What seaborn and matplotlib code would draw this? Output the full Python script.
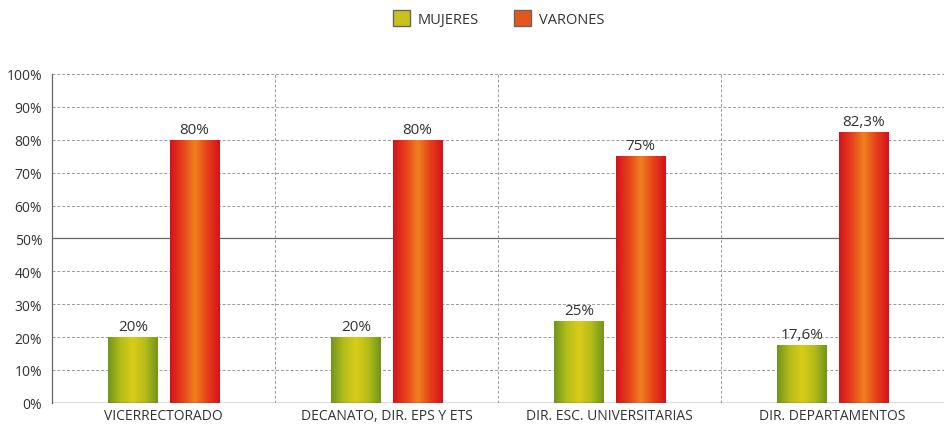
import numpy as np
import pandas as pd
import seaborn as sns
import matplotlib.pyplot as plt
from matplotlib.colors import LinearSegmentedColormap
from matplotlib.patches import Patch

# data
categorias = ['VICERRECTORADO', 'DECANATO, DIR. EPS Y ETS',
              'DIR. ESC. UNIVERSITARIAS', 'DIR. DEPARTAMENTOS']
mujeres = [20, 20, 25, 17.6]
varones = [80, 80, 75, 82.3]
series = ['MUJERES', 'VARONES']

df = pd.DataFrame({
    'cargo': categorias * 2,
    'sexo': ['MUJERES'] * 4 + ['VARONES'] * 4,
    'valor': mujeres + varones,
})

sns.set_style('white')
plt.rcParams['font.family'] = ['Open Sans', 'DejaVu Sans']

fig = plt.figure(figsize=(9.44, 4.31), dpi=100)
ax = fig.add_axes([0.055, 0.063, 0.945, 0.763])

flat = {'MUJERES': '#c9c21c', 'VARONES': '#e4561c'}
ax = sns.barplot(data=df, x='cargo', y='valor', hue='sexo', order=categorias,
                 hue_order=series, palette=flat, width=0.55, gap=0.2,
                 legend=False, ax=ax)

# horizontal gradients (dark edges, light centre) like the original bars
cmaps = {
    'MUJERES': LinearSegmentedColormap.from_list('m', ['#6f951c', '#b3bc1a', '#d9cc18', '#b3bc1a', '#6f951c']),
    'VARONES': LinearSegmentedColormap.from_list('v', ['#d4121a', '#e6401a', '#f0801e', '#e6401a', '#d4121a']),
}
grad = np.linspace(0, 1, 256).reshape(1, -1)
for container, name in zip(ax.containers, series):
    for bar in container:
        x0, y0 = bar.get_x(), bar.get_y()
        w, h = bar.get_width(), bar.get_height()
        bar.set_facecolor('none')
        bar.set_edgecolor('none')
        im = ax.imshow(grad, cmap=cmaps[name], aspect='auto',
                       extent=(x0, x0 + w, y0, y0 + h), zorder=3)
        im.set_clip_path(bar)
    labels = [f'{v:g}%'.replace('.', ',') for v in container.datavalues]
    ax.bar_label(container, labels=labels, padding=2, fontsize=11, color='#333333')

ax.set_xlim(-0.5, 3.5)
ax.set_ylim(0, 100)
ax.set_yticks(range(0, 101, 10))
ax.set_yticklabels([f'{t}%' for t in range(0, 101, 10)], fontsize=10, color='#333333')
ax.set_xticklabels(categorias, fontsize=10, color='#333333')
ax.set_xlabel('')
ax.set_ylabel('')
ax.tick_params(axis='y', length=4, color='#777777', pad=3)
ax.tick_params(axis='x', length=0, pad=4)

# grid: dashed, 50% solid
for t in range(10, 101, 10):
    if t == 50:
        ax.axhline(t, color='#666666', lw=0.9, zorder=1)
    else:
        ax.axhline(t, color='#9a9a9a', lw=0.7, ls=(0, (3, 2)), zorder=1)
for xv in [0.5, 1.5, 2.5]:
    ax.axvline(xv, color='#9a9a9a', lw=0.7, ls=(0, (3, 2)), zorder=1)
ax.axhline(0, color='#555555', lw=1.0, zorder=4)

for s in ['top', 'right', 'bottom']:
    ax.spines[s].set_visible(False)
ax.spines['left'].set_color('#666666')
ax.spines['left'].set_linewidth(0.9)

handles = [Patch(facecolor=flat[s], edgecolor='#666666', label=s) for s in series]
fig.legend(handles=handles, loc='upper center', bbox_to_anchor=(0.528, 1.005),
           ncol=2, frameon=False, fontsize=10.5, handlelength=1.2, handleheight=1.3,
           columnspacing=2.4, handletextpad=0.5, labelcolor='#333333')

plt.savefig('out.png', dpi=100)
